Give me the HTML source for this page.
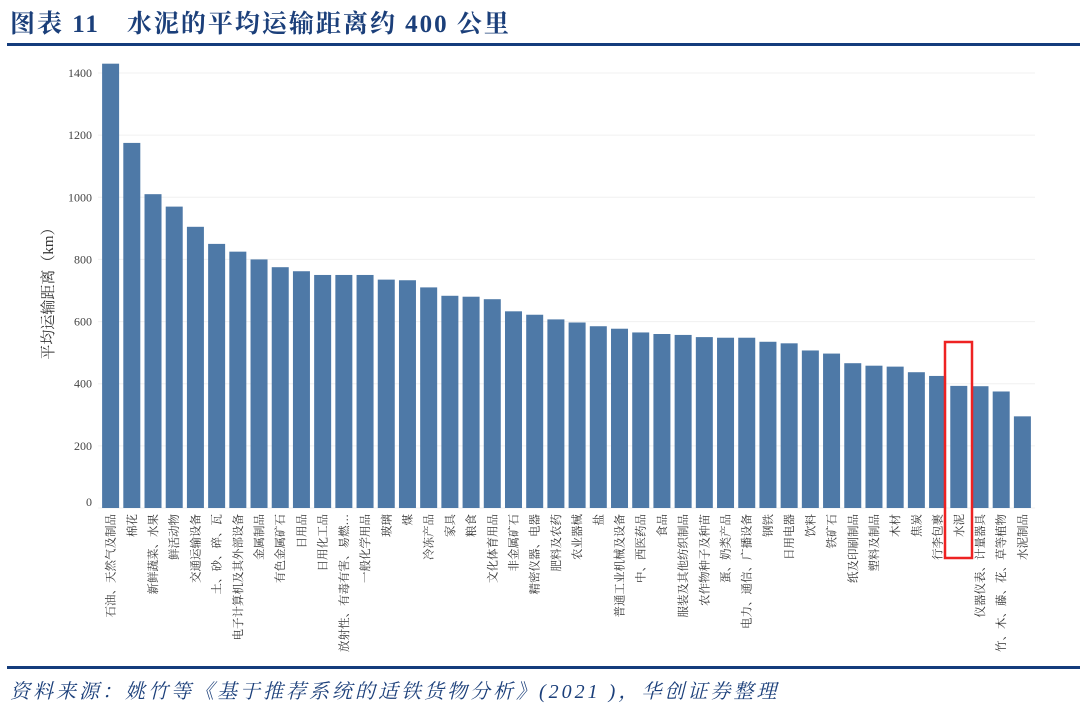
<!DOCTYPE html>
<html><head><meta charset="utf-8">
<style>
body{margin:0;background:#fff;}
#wrap{position:relative;width:1080px;height:715px;overflow:hidden;font-family:"Liberation Serif","Noto Serif CJK SC",serif;}
</style></head>
<body>
<div id="wrap">
<svg id="chart" width="1080" height="715" xmlns="http://www.w3.org/2000/svg">
  <text x="10" y="32" font-size="25" letter-spacing="2" font-weight="bold" fill="#1b3f7a" font-family="Liberation Serif, Noto Serif CJK SC, serif">图表 11　水泥的平均运输距离约 400 公里</text>
  <rect x="7" y="43" width="1073" height="3" fill="#143c7c"/>
  <rect x="7" y="666" width="1073" height="3" fill="#143c7c"/>
  <text x="10" y="698" font-size="20" letter-spacing="3" font-style="italic" fill="#1b3f7a" font-family="Liberation Serif, Noto Serif CJK SC, serif">资料来源：姚竹等《基于推荐系统的适铁货物分析》(2021 )，华创证券整理</text>
  <text transform="translate(53,290) rotate(-90)" text-anchor="middle" font-size="15" fill="#333" font-family="Liberation Serif, Noto Serif CJK SC, serif">平均运输距离（km）</text>
  <g id="grid"></g><g id="yticks"></g><g id="bars"></g><g id="xlabels"></g>
  <rect x="945" y="342" width="27" height="216" fill="none" stroke="#ee2222" stroke-width="2.5"/>
</svg>
</div>
<script>
const categories=["石油、天然气及制品","棉花","新鲜蔬菜、水果","鲜活动物","交通运输设备","土、砂、碎、瓦","电子计算机及其外部设备","金属制品","有色金属矿石","日用品","日用化工品","放射性、有毒有害、易燃…","一般化学用品","玻璃","煤","冷冻产品","家具","粮食","文化体育用品","非金属矿石","精密仪器、电器","肥料及农药","农业器械","盐","普通工业机械及设备","中、西医药品","食品","服装及其他纺织制品","农作物种子及种苗","蛋、奶类产品","电力、通信、广播设备","钢铁","日用电器","饮料","铁矿石","纸及印刷制品","塑料及制品","木材","焦炭","行李包裹","水泥","仪器仪表、计量器具","竹、木、藤、花、草等植物","水泥制品"];
const values=[1430,1175,1010,970,905,850,825,800,775,762,750,750,750,735,733,710,683,680,672,633,622,607,597,585,577,565,560,557,550,548,548,535,530,507,497,466,458,455,437,425,393,392,375,295];
const yTicks=[0,200,400,600,800,1000,1200,1400];
const NS="http://www.w3.org/2000/svg";
const y0=508,yTop=73,yMax=1400;
function y(v){return y0-(v/yMax)*(y0-yTop);}
const bandStart=100,bandW=(1033-100)/categories.length,barW=17;
function x(i){return bandStart+i*bandW+(bandW-barW)/2;}
const grid=document.getElementById('grid'),yt=document.getElementById('yticks'),bars=document.getElementById('bars'),xl=document.getElementById('xlabels');
yTicks.forEach(t=>{
  const l=document.createElementNS(NS,'line');
  l.setAttribute('x1',98);l.setAttribute('x2',1035);l.setAttribute('y1',y(t));l.setAttribute('y2',y(t));
  l.setAttribute('stroke','#f0f0f0');l.setAttribute('stroke-width','1');
  
  
  grid.appendChild(l);
  const tx=document.createElementNS(NS,'text');
  tx.setAttribute('x',92);tx.setAttribute('y',y(t)+4-(t===0?6:0));tx.setAttribute('text-anchor','end');
  tx.setAttribute('font-size','12');tx.setAttribute('fill','#444');
  tx.textContent=t;
  
  
  yt.appendChild(tx);
});
categories.forEach((c,i)=>{
  const r=document.createElementNS(NS,'rect');
  r.setAttribute('x',x(i));r.setAttribute('y',y(values[i]));r.setAttribute('width',barW);r.setAttribute('height',y0-y(values[i]));
  r.setAttribute('fill','#4e79a7');
  
  
  bars.appendChild(r);
  const t=document.createElementNS(NS,'text');
  const cx=x(i)+barW/2+4;
  t.setAttribute('transform','translate('+cx+',514) rotate(-90)');
  t.setAttribute('text-anchor','end');t.setAttribute('font-size','11.5');t.setAttribute('fill','#333');
  t.textContent=c;
  
  
  xl.appendChild(t);
});
</script>
</body></html>
